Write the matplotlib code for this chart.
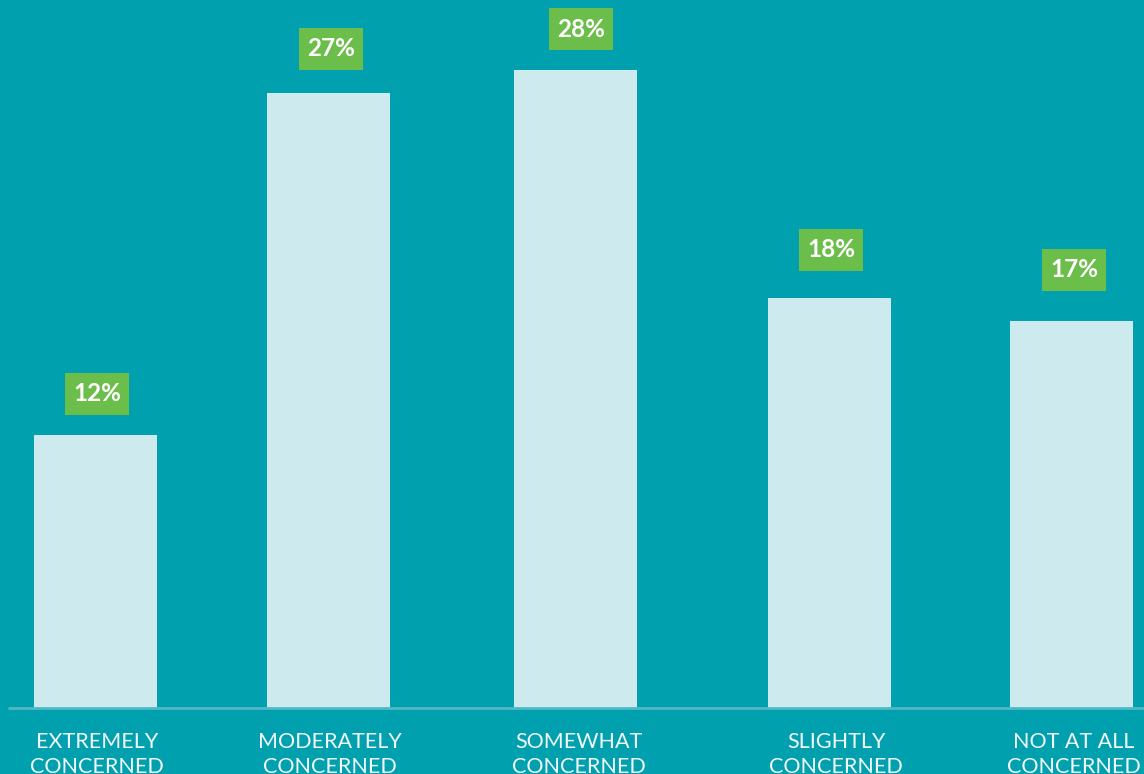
import matplotlib.pyplot as plt
from matplotlib.patches import Rectangle

categories = ["EXTREMELY\nCONCERNED", "MODERATELY\nCONCERNED", "SOMEWHAT\nCONCERNED",
              "SLIGHTLY\nCONCERNED", "NOT AT ALL\nCONCERNED"]
values = [12, 27, 28, 18, 17]

# layout in pixel units along x
centers = [95.5, 328.5, 575.5, 829.5, 1071.5]
bar_w = 123
px_per_pct = 22.78
# per-bar placement tweaks for the value tags and category labels (pixels)
tag_dx = [1.5, 2.5, 5.5, 1.5, 2.5]
tag_gap = [20, 23, 20, 27, 30]
label_dx = [1.5, 1.5, 3.5, 6.5, 2]

BG = "#00A0AF"
BAR = "#CDEBEE"
GREEN = "#6CBE4B"

W, H = 1144, 774
fig = plt.figure(figsize=(W / 100, H / 100), dpi=100, facecolor=BG)
ax = fig.add_axes([0, 0, 1, 1], facecolor=BG)
ax.set_xlim(0, W)
base_px = 66
ax.set_ylim(-base_px / px_per_pct, (H - base_px) / px_per_pct)
ax.axis("off")

ax.bar(centers, values, width=bar_w, color=BAR, align="center", zorder=2)
ax.plot([8, W], [0, 0], color="#4FBAC5", lw=2, zorder=3, solid_capstyle="butt")

box_w = 64
box_h = 42 / px_per_pct
for x, v, dx, g in zip(centers, values, tag_dx, tag_gap):
    y0 = v + g / px_per_pct
    cx = x + dx
    ax.add_patch(Rectangle((cx - box_w / 2, y0), box_w, box_h, facecolor=GREEN,
                           edgecolor="none", zorder=4))
    ax.text(cx, y0 + box_h / 2, f"{v}%", ha="center", va="center", color="white",
            fontsize=17.5, fontweight="bold", family="Lato", zorder=5)

for x, lab, dx in zip(centers, categories, label_dx):
    ax.text(x + dx, -24 / px_per_pct, lab, ha="center", va="top", color="#F2FAFB",
            fontsize=15.5, family="Lato", linespacing=1.33, zorder=5)

fig.savefig("out.png", dpi=100, facecolor=BG)
